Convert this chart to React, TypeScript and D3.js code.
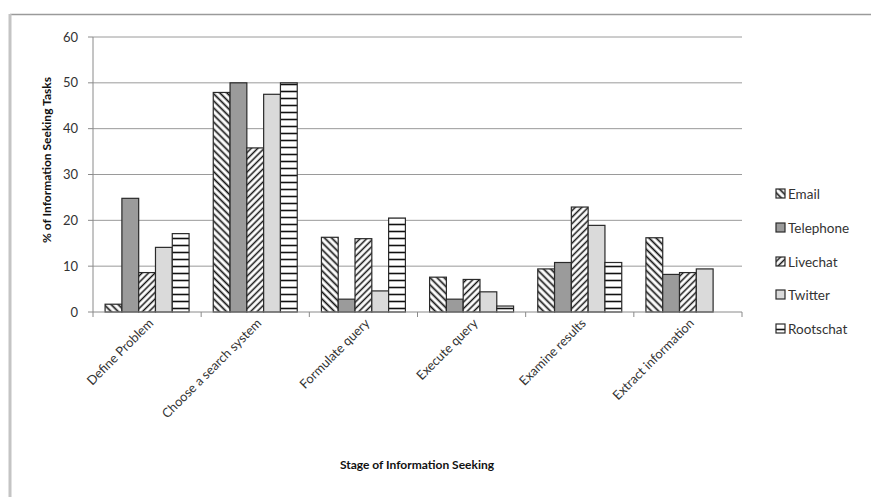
import React from "react";
import * as d3 from "d3";

const categories = ["Define Problem", "Choose a search system", "Formulate query", "Execute query", "Examine results", "Extract information"];
const seriesNames = ["Email", "Telephone", "Livechat", "Twitter", "Rootschat"];
const email = [1.7, 47.9, 16.3, 7.6, 9.4, 16.2];
const telephone = [24.8, 50, 2.8, 2.8, 10.8, 8.2];
const livechat = [8.6, 35.8, 16.0, 7.1, 22.9, 8.6];
const twitter = [14.1, 47.5, 4.6, 4.4, 18.9, 9.4];
const rootschat = [17.1, 50, 20.5, 1.3, 10.8, 0];
const yTicks = [0, 10, 20, 30, 40, 50, 60];

const seriesValues = [email, telephone, livechat, twitter, rootschat];
const fills = ["url(#pEmail)", "#9b9b9b", "url(#pLive)", "#dadada", "url(#pRoot)"];

const W = 871, H = 497;
const left = 93, right = 742, top = 37, bottom = 312;
const FONT = "Lato, 'Open Sans', sans-serif";

export default function App() {
  const x0 = d3.scaleBand<string>().domain(categories).range([left, right]).padding(0);
  const x1 = d3.scaleBand<string>().domain(seriesNames).range([0, x0.bandwidth()]).paddingInner(0).paddingOuter(0.72);
  const y = d3.scaleLinear().domain([0, 60]).range([bottom, top]);
  const legendY = [194, 228, 262, 295, 329];

  return (
    <svg width={W} height={H} style={{ position: "absolute", left: 0, top: 0, background: "#fff" }} fontFamily={FONT}>
      <defs>
        <pattern id="pEmail" patternUnits="userSpaceOnUse" width={5} height={5} patternTransform="rotate(-45)">
          <rect width={5} height={5} fill="#fff" />
          <line x1={2.5} y1={0} x2={2.5} y2={5} stroke="#111" strokeWidth={1.7} />
        </pattern>
        <pattern id="pLive" patternUnits="userSpaceOnUse" width={4.6} height={4.6} patternTransform="rotate(45)">
          <rect width={4.6} height={4.6} fill="#fff" />
          <line x1={2.3} y1={0} x2={2.3} y2={4.6} stroke="#111" strokeWidth={1.5} />
        </pattern>
        <pattern id="pRoot" patternUnits="userSpaceOnUse" width={10} height={7} y={bottom}>
          <rect width={10} height={7} fill="#fff" />
          <line x1={0} y1={3.5} x2={10} y2={3.5} stroke="#111" strokeWidth={1.6} />
        </pattern>
      </defs>

      {/* chart frame */}
      <line x1={10} y1={14.5} x2={W} y2={14.5} stroke="#9a9a9a" strokeWidth={1.5} />
      <line x1={10} y1={14} x2={10} y2={H} stroke="#c4c4c4" strokeWidth={3} />

      {/* gridlines */}
      {yTicks.filter(t => t > 0).map(t => (
        <line key={t} x1={left} x2={right} y1={y(t)} y2={y(t)} stroke="#9a9a9a" strokeWidth={1} />
      ))}

      {/* y axis */}
      <line x1={left} x2={left} y1={top} y2={bottom} stroke="#8a8a8a" strokeWidth={1} />
      {yTicks.map(t => (
        <g key={t}>
          <line x1={left - 5} x2={left} y1={y(t)} y2={y(t)} stroke="#8a8a8a" strokeWidth={1} />
          <text x={78} y={y(t)} dy="0.35em" textAnchor="end" fontSize={13} fill="#333">{t}</text>
        </g>
      ))}

      {/* bars */}
      {categories.map((c, ci) => (
        <g key={c} transform={`translate(${x0(c)},0)`}>
          {seriesNames.map((s, si) => {
            const v = seriesValues[si][ci];
            if (!v) return null;
            return (
              <rect key={s} x={x1(s)!} y={y(v)} width={x1.bandwidth()} height={bottom - y(v)}
                fill={fills[si]} stroke="#2a2a2a" strokeWidth={1.2} />
            );
          })}
        </g>
      ))}

      {/* x axis */}
      <line x1={left} x2={right} y1={bottom} y2={bottom} stroke="#8a8a8a" strokeWidth={1} />
      {[...categories.map(c => x0(c)!), right].map((xx, i) => (
        <line key={i} x1={xx} x2={xx} y1={bottom} y2={bottom + 5} stroke="#8a8a8a" strokeWidth={1} />
      ))}
      {categories.map(c => {
        const cx = x0(c)! + x0.bandwidth() / 2 + 7;
        const cy = bottom + 12;
        return (
          <text key={c} x={cx} y={cy} transform={`rotate(-45 ${cx} ${cy})`} textAnchor="end" fontSize={12.8} fill="#333">{c}</text>
        );
      })}

      {/* axis titles */}
      <text x={417} y={469} textAnchor="middle" fontSize={12} fontWeight="bold" fill="#111">Stage of Information Seeking</text>
      <text transform={`translate(51,160) rotate(-90)`} textAnchor="middle" fontSize={12} fontWeight="bold" fill="#111">% of Information Seeking Tasks</text>

      {/* legend */}
      {seriesNames.map((s, i) => (
        <g key={s}>
          <rect x={776} y={legendY[i] - 5} width={9} height={9} fill={fills[i]} stroke="#2a2a2a" strokeWidth={1.2} />
          <text x={788} y={legendY[i]} dy="0.35em" fontSize={13.5} fill="#333">{s}</text>
        </g>
      ))}
    </svg>
  );
}
